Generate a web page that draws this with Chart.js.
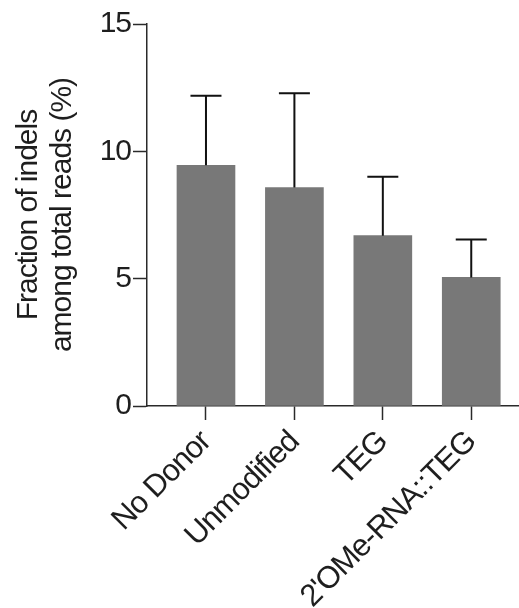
<!DOCTYPE html>
<html>
<head>
<meta charset="utf-8">
<script src="https://cdn.jsdelivr.net/npm/chart.js@4"></script>
<style>
    html, body { margin: 0; padding: 0; background: #fff; }
    #wrap { width: 519px; height: 608px; }
</style>
</head>
<body>
<div id="wrap"><canvas id="myChart"></canvas></div>
<script>
const categories = ["No Donor", "Unmodified", "TEG", "2'OMe-RNA::TEG"];
const meanValues = [9.45, 8.58, 6.69, 5.05];
const sdValues = [2.73, 3.70, 2.31, 1.49];
const yTicks = [0, 5, 10, 15];

const fontFamily = "'Liberation Sans', Arial, sans-serif";
const axisColor = "#2a2a2a";
const textColor = "#1e1e1e";

// the reference text is set a little tighter than plain Arial
const tightText = {
    id: "tightText",
    beforeUpdate(chart) { chart.ctx.letterSpacing = "-1px"; },
    beforeDraw(chart) { chart.ctx.letterSpacing = "-1px"; }
};

// upper error bars drawn through the y scale
const errorBars = {
    id: "errorBars",
    afterDatasetsDraw(chart) {
        const ctx = chart.ctx;
        const yScale = chart.scales.y;
        const meta = chart.getDatasetMeta(0);
        ctx.save();
        ctx.strokeStyle = "#111";
        ctx.lineWidth = 2;
        meta.data.forEach((bar, i) => {
            const top = yScale.getPixelForValue(meanValues[i] + sdValues[i]);
            ctx.beginPath();
            ctx.moveTo(bar.x, bar.y);
            ctx.lineTo(bar.x, top);
            ctx.moveTo(bar.x - 15.5, top);
            ctx.lineTo(bar.x + 15.5, top);
            ctx.stroke();
        });
        ctx.restore();
    }
};

const ctx = document.getElementById("myChart").getContext("2d");

new Chart(ctx, {
    type: "bar",
    data: {
        datasets: [{
            data: meanValues.map((v, i) => ({ x: i, y: v })),
            backgroundColor: "#787878",
            borderWidth: 0,
            barThickness: 58
        }]
    },
    options: {
        responsive: true,
        maintainAspectRatio: false,
        animation: false,
        layout: { padding: { top: 24, right: 0, bottom: 0, left: 0 } },
        plugins: {
            legend: { display: false },
            tooltip: { enabled: false }
        },
        scales: {
            x: {
                type: "linear",
                min: -0.667,
                max: 3.54,
                offset: false,
                afterBuildTicks: scale => {
                    scale.ticks = categories.map((_, i) => ({ value: i }));
                },
                afterFit: scale => { scale.height = 202; },
                grid: {
                    offset: false,
                    drawOnChartArea: false,
                    drawTicks: true,
                    tickLength: 14,
                    tickColor: axisColor,
                    tickWidth: 1.5
                },
                border: { display: true, color: axisColor, width: 1.5 },
                ticks: {
                    autoSkip: false,
                    minRotation: 45,
                    maxRotation: 45,
                    padding: 4,
                    color: textColor,
                    font: { size: 31, family: fontFamily },
                    callback: v => categories[v]
                }
            },
            y: {
                min: 0,
                max: 15,
                afterBuildTicks: scale => {
                    scale.ticks = yTicks.map(v => ({ value: v }));
                },
                afterFit: scale => { scale.width = 147; },
                grid: {
                    drawOnChartArea: false,
                    drawTicks: true,
                    tickLength: 14,
                    tickColor: axisColor,
                    tickWidth: 1.5
                },
                border: { display: true, color: axisColor, width: 1.5 },
                ticks: {
                    padding: 2,
                    color: textColor,
                    font: { size: 30, family: fontFamily }
                },
                title: {
                    display: true,
                    text: ["Fraction of indels", "among total reads (%)"],
                    color: textColor,
                    font: { size: 30, family: fontFamily, lineHeight: 1.15 },
                    padding: { top: 11, bottom: 0 }
                }
            }
        }
    },
    plugins: [tightText, errorBars]
});
</script>
</body>
</html>
